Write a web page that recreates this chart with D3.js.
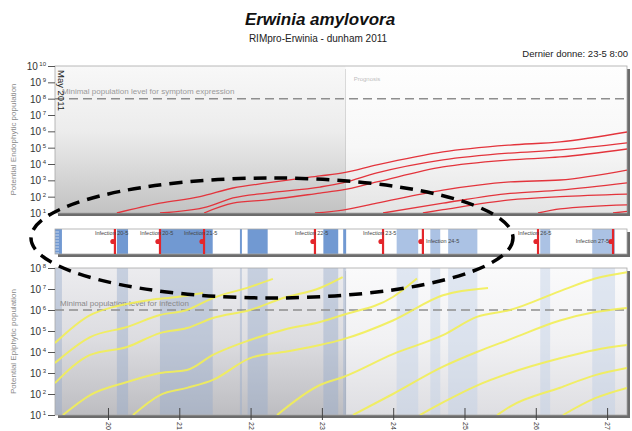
<!DOCTYPE html>
<html>
<head>
<meta charset="utf-8">
<script src="https://cdn.jsdelivr.net/npm/d3@7"></script>
<style>
  body { margin: 0; background: #fff; }
  svg { display: block; font-family: "Liberation Sans", Arial, sans-serif; }
</style>
</head>
<body>
<svg id="chart" width="632" height="431"></svg>
<script>
// --- data (times are day-month hour:min, 2011) ---
const timeStart = "19-5 06:10";
const timeEnd = "27-5 06:42";
const lastData = "23-5 08:00";

// wet periods (blue bands)
const wetStart = ["19-5 06:00", "20-5 03:00", "20-5 17:30", "21-5 20:25", "21-5 23:00", "23-5 00:30", "23-5 07:10", "24-5 01:10", "24-5 12:30", "24-5 18:30", "26-5 01:30", "26-5 19:00"];
const wetEnd   = ["19-5 08:30", "20-5 06:45", "21-5 11:15", "21-5 21:05", "22-5 05:45", "23-5 05:30", "23-5 08:10", "24-5 08:25", "24-5 15:50", "25-5 04:20", "26-5 04:50", "27-5 02:40"];

// infection events
const infectionTimes = ["20-5 02:20", "20-5 17:30", "21-5 08:20", "22-5 21:40", "23-5 20:35", "24-5 10:00", "26-5 00:45", "27-5 02:00"];
const infectionLabels = ["Infection 20-5", "Infection 20-5", "Infection 21-5", "Infection 22-5", "Infection 23-5", "Infection 24-5", "Infection 26-5", "Infection 27-5"];
const labelRow = [0, 0, 0, 0, 0, 1, 0, 1]; // 0 = upper row, 1 = lower row

// potential endophytic population (log10)
const endo1 = [["20-5 03:00", 1.0], ["20-5 17:30", 1.6], ["21-5 07:00", 2.0], ["21-5 18:05", 2.53], ["22-5 05:30", 2.84], ["22-5 23:20", 3.27], ["23-5 07:00", 3.45], ["23-5 18:30", 3.94], ["24-5 16:45", 4.74], ["25-5 15:20", 5.16], ["26-5 08:10", 5.35], ["27-5 06:42", 5.96]];
const endo2 = [["20-5 17:30", 1.0], ["21-5 09:20", 1.37], ["21-5 18:05", 1.92], ["22-5 05:30", 2.22], ["22-5 23:20", 2.59], ["23-5 07:00", 2.84], ["23-5 18:30", 3.45], ["24-5 16:45", 4.25], ["25-5 15:20", 4.67], ["26-5 08:10", 4.86], ["27-5 06:42", 5.29]];
const endo3 = [["21-5 08:20", 1.0], ["21-5 18:05", 1.6], ["22-5 05:30", 1.8], ["22-5 23:20", 2.22], ["23-5 07:00", 2.41], ["23-5 18:30", 2.9], ["24-5 16:45", 3.82], ["25-5 15:20", 4.25], ["26-5 08:10", 4.43], ["27-5 06:42", 4.92]];
const endo4 = [["22-5 21:40", 1.0], ["23-5 07:00", 1.18], ["23-5 18:30", 1.6], ["24-5 16:45", 2.4], ["25-5 15:20", 2.9], ["26-5 08:10", 3.02], ["27-5 06:42", 3.63]];
const endo5 = [["23-5 20:35", 1.0], ["24-5 16:45", 1.6], ["25-5 15:20", 2.2], ["26-5 08:10", 2.4], ["27-5 06:42", 2.84]];
const endo6 = [["24-5 10:00", 1.0], ["24-5 16:45", 1.2], ["25-5 15:20", 1.8], ["26-5 08:10", 2.0], ["27-5 06:42", 2.16]];
const endo7 = [["26-5 00:45", 1.0], ["26-5 08:10", 1.25], ["27-5 06:42", 1.5]];
const endo8 = [["27-5 02:00", 1.0], ["27-5 06:42", 1.1]];
const endoSeries = [endo1, endo2, endo3, endo4, endo5, endo6, endo7, endo8];

// potential epiphytic population (log10)
const epi1 = [["19-5 06:10", 4.43], ["19-5 18:00", 5.76], ["20-5 00:40", 6.1], ["20-5 14:10", 6.48], ["20-5 23:15", 6.62], ["21-5 08:00", 6.81]];
const epi2 = [["19-5 06:10", 3.48], ["19-5 18:00", 4.71], ["20-5 06:25", 5.19], ["20-5 17:30", 5.76], ["21-5 02:35", 6.0], ["21-5 11:20", 6.57], ["21-5 23:50", 7.1], ["22-5 07:30", 7.48]];
const epi3 = [["19-5 06:10", 2.52], ["19-5 18:00", 3.86], ["20-5 06:25", 4.24], ["20-5 17:30", 4.9], ["21-5 02:35", 5.14], ["21-5 11:20", 5.62], ["21-5 23:50", 6.0], ["22-5 10:55", 6.57], ["22-5 23:20", 7.05], ["23-5 07:00", 7.57]];
const epi4 = [["19-5 08:50", 1.0], ["19-5 18:00", 1.95], ["20-5 06:25", 2.57], ["20-5 17:30", 3.0], ["21-5 02:35", 3.14], ["21-5 11:20", 3.86], ["21-5 23:50", 4.57], ["22-5 10:55", 5.05], ["22-5 23:20", 5.43], ["23-5 07:00", 5.76], ["23-5 23:55", 6.62], ["24-5 08:00", 7.5]];
const epi5 = [["20-5 08:25", 1.0], ["20-5 17:30", 1.95], ["21-5 02:35", 2.29], ["21-5 11:20", 2.67], ["21-5 23:50", 3.71], ["22-5 10:55", 4.0], ["22-5 23:20", 4.33], ["23-5 07:00", 4.6], ["23-5 23:55", 5.5], ["24-5 16:45", 6.7], ["25-5 07:55", 7.05]];
const epi6 = [["22-5 08:55", 1.0], ["22-5 23:20", 2.43], ["23-5 07:00", 2.8], ["23-5 23:55", 3.9], ["24-5 16:45", 4.8], ["25-5 04:10", 5.67], ["25-5 15:20", 6.0], ["26-5 08:10", 6.9], ["26-5 20:00", 7.5], ["27-5 06:42", 7.8]];
const epi7 = [["23-5 10:30", 1.0], ["23-5 23:55", 2.0], ["24-5 16:45", 3.3], ["25-5 04:10", 4.0], ["25-5 15:20", 4.6], ["26-5 08:10", 5.5], ["26-5 20:00", 5.9], ["27-5 06:42", 6.1]];
const epi8 = [["24-5 09:00", 1.0], ["24-5 16:45", 1.6], ["25-5 04:10", 2.4], ["25-5 15:20", 3.0], ["26-5 08:10", 3.7], ["26-5 20:00", 4.1], ["27-5 06:42", 4.33]];
const epi9 = [["25-5 11:00", 1.0], ["25-5 15:20", 1.4], ["26-5 08:10", 2.3], ["26-5 20:00", 2.9], ["27-5 06:42", 3.24]];
const epi10 = [["26-5 09:10", 1.0], ["26-5 20:00", 1.8], ["27-5 06:42", 2.29]];
const epiSeries = [epi1, epi2, epi3, epi4, epi5, epi6, epi7, epi8, epi9, epi10];

const topTickExp = [1, 2, 3, 4, 5, 6, 7, 8, 9, 10];
const botTickExp = [1, 2, 3, 4, 5, 6, 7, 8];
const symptomLevel = 8;
const infectionLevel = 6;

// --- layout ---
const parseT = s => d3.timeParse("%Y %d-%m %H:%M")("2011 " + s);
const svg = d3.select("#chart");
const L = 55, R = 627;
const topP = { y0: 66, y1: 213 };
const strip = { y0: 229, y1: 254 };
const botP = { y0: 268, y1: 415 };

const x = d3.scaleTime().domain([parseT(timeStart), parseT(timeEnd)]).range([L, R]);
const yTop = d3.scaleLog().domain([1e1, 1e10]).range([topP.y1, topP.y0]);
const yBot = d3.scaleLog().domain([1e1, 1e8]).range([botP.y1, botP.y0]);
const xSplit = x(parseT(lastData));

const defs = svg.append("defs");
function grad(id, stops) {
    const g = defs.append("linearGradient").attr("id", id).attr("x1", 0).attr("y1", 0).attr("x2", 0).attr("y2", 1);
    stops.forEach(s => g.append("stop").attr("offset", s[0]).attr("stop-color", s[1]));
}
grad("topObs", [["0%", "#f8f8f8"], ["45%", "#ececec"], ["100%", "#c2c2c2"]]);
grad("topProg", [["0%", "#fefefe"], ["55%", "#f7f7f7"], ["100%", "#e4e4e4"]]);
grad("botObs", [["0%", "#ececef"], ["50%", "#dcdce0"], ["100%", "#bdbdc1"]]);
grad("botProg", [["0%", "#fafafb"], ["50%", "#f1f1f3"], ["100%", "#dedee2"]]);

function clip(id, p) {
    defs.append("clipPath").attr("id", id).append("rect")
        .attr("x", L).attr("y", p.y0).attr("width", R - L).attr("height", p.y1 - p.y0);
}
clip("clipTop", topP);
clip("clipBot", botP);
clip("clipStrip", strip);

// panels with drop shadow
function panel(p, obs, prog) {
    svg.append("rect").attr("x", L + 3).attr("y", p.y0 + 3).attr("width", R - L).attr("height", p.y1 - p.y0).attr("fill", "#6c6c6c");
    if (obs) {
        svg.append("rect").attr("x", L).attr("y", p.y0).attr("width", xSplit - L).attr("height", p.y1 - p.y0).attr("fill", `url(#${obs})`);
        svg.append("rect").attr("x", xSplit).attr("y", p.y0).attr("width", R - xSplit).attr("height", p.y1 - p.y0).attr("fill", `url(#${prog})`);
    } else {
        svg.append("rect").attr("x", L).attr("y", p.y0).attr("width", R - L).attr("height", p.y1 - p.y0).attr("fill", "#fff");
    }
}
panel(topP, "topObs", "topProg");
panel(strip, null, null);
panel(botP, "botObs", "botProg");

// wet bands
const wet = wetStart.map((s, i) => ({ s: parseT(s), e: parseT(wetEnd[i]) }));
const lastT = parseT(lastData);

svg.append("g").attr("clip-path", "url(#clipStrip)")
    .selectAll("rect").data(wet).join("rect")
    .attr("x", d => x(d.s)).attr("width", d => x(d.e) - x(d.s))
    .attr("y", strip.y0).attr("height", strip.y1 - strip.y0)
    .attr("fill", d => d.s < lastT ? "#7199d2" : "#abc2e4");

svg.append("g").attr("clip-path", "url(#clipBot)")
    .selectAll("rect").data(wet).join("rect")
    .attr("x", d => x(d.s)).attr("width", d => x(d.e) - x(d.s))
    .attr("y", botP.y0).attr("height", botP.y1 - botP.y0)
    .attr("fill", d => d.s < lastT ? "#94aacb" : "#bccde4")
    .attr("opacity", d => d.s < lastT ? 0.42 : 0.42);

// little marks at left of the strip
svg.append("g").selectAll("line").data(d3.range(strip.y0 + 3, strip.y1, 3)).join("line")
    .attr("x1", L).attr("x2", L + 4).attr("y1", d => d).attr("y2", d => d)
    .attr("stroke", "#dfe7f3").attr("stroke-width", 0.8);

svg.selectAll(".pborder").data([topP, strip, botP]).join("rect")
    .attr("x", L).attr("y", d => d.y0).attr("width", R - L).attr("height", d => d.y1 - d.y0)
    .attr("fill", "none").attr("stroke", "#a8a8a8").attr("stroke-width", 0.8);

// threshold lines
svg.append("line").attr("x1", L).attr("x2", R)
    .attr("y1", yTop(10 ** symptomLevel)).attr("y2", yTop(10 ** symptomLevel))
    .attr("stroke", "#8e8e8e").attr("stroke-width", 1.5).attr("stroke-dasharray", "9,5");
svg.append("text").attr("x", L + 7).attr("y", yTop(10 ** symptomLevel) - 5)
    .attr("font-size", 8).attr("fill", "#9a9a9a").text("Minimal population level for symptom expression");

svg.append("line").attr("x1", L).attr("x2", R)
    .attr("y1", yBot(10 ** infectionLevel)).attr("y2", yBot(10 ** infectionLevel))
    .attr("stroke", "#8e8e8e").attr("stroke-width", 1.5).attr("stroke-dasharray", "9,5");
svg.append("text").attr("x", L + 5).attr("y", yBot(10 ** infectionLevel) - 4)
    .attr("font-size", 8).attr("fill", "#8a8a8a").text("Minimal population level for infection");

svg.append("text").attr("x", xSplit + 8).attr("y", topP.y0 + 15)
    .attr("font-size", 6).attr("fill", "#bdbdbd").text("Prognosis");

// population lines
const lineTop = d3.line().x(d => x(parseT(d[0]))).y(d => yTop(10 ** d[1])).curve(d3.curveMonotoneX);
const lineBot = d3.line().x(d => x(parseT(d[0]))).y(d => yBot(10 ** d[1])).curve(d3.curveMonotoneX);

svg.append("g").attr("clip-path", "url(#clipTop)")
    .selectAll("path").data(endoSeries).join("path")
    .attr("d", lineTop).attr("fill", "none").attr("stroke", "#e3343c").attr("stroke-width", 1.3);

svg.append("g").attr("clip-path", "url(#clipBot)")
    .selectAll("path").data(epiSeries).join("path")
    .attr("d", lineBot).attr("fill", "none").attr("stroke", "#f2ee55").attr("stroke-width", 2)
    .attr("stroke-opacity", 0.9);

// infections in the strip
const inf = infectionTimes.map((t, i) => ({ t: parseT(t), label: infectionLabels[i], row: labelRow[i] }));
const ig = svg.append("g");
ig.selectAll("line").data(inf).join("line")
    .attr("x1", d => x(d.t)).attr("x2", d => x(d.t))
    .attr("y1", strip.y0).attr("y2", strip.y1)
    .attr("stroke", "#e3262b").attr("stroke-width", 2.2);
ig.selectAll("circle").data(inf).join("circle")
    .attr("cx", d => x(d.t) - 2).attr("cy", strip.y0 + 12.5).attr("r", 2.6)
    .attr("fill", "#e3262b");
ig.selectAll("text").data(inf).join("text")
    .attr("x", d => {
        if (d.row === 0) return x(d.t) - 20;
        return x(d.t) + 40 > R ? x(d.t) - 4 : x(d.t) + 3;
    })
    .attr("text-anchor", d => (d.row === 1 && x(d.t) + 40 > R) ? "end" : "start")
    .attr("y", d => d.row === 0 ? strip.y0 + 6 : strip.y0 + 14)
    .attr("font-size", 5.5).attr("fill", "#444")
    .text(d => d.label);

// y axes
function yAxis(scale, exps) {
    const g = svg.append("g").attr("transform", `translate(${L},0)`)
        .call(d3.axisLeft(scale).tickValues(exps.map(e => 10 ** e)).tickSize(7).tickFormat(""));
    g.select(".domain").remove();
    g.selectAll(".tick line").attr("stroke", "#555");
    const t = g.selectAll(".tick").append("text")
        .attr("x", -9).attr("dy", "0.35em").attr("text-anchor", "end")
        .attr("fill", "#333").attr("font-size", 10);
    t.append("tspan").text("10");
    t.append("tspan").attr("dx", 1.5).attr("dy", -4).attr("font-size", 6)
        .text((d, i) => exps[i]);
}
yAxis(yTop, topTickExp);
yAxis(yBot, botTickExp);

// x axis under the bottom panel (day labels, rotated)
const gx = svg.append("g").attr("transform", `translate(0,${botP.y1})`)
    .call(d3.axisBottom(x).ticks(d3.timeDay.every(1)).tickFormat(d3.timeFormat("%-d")));
gx.select(".domain").remove();
gx.selectAll(".tick line").attr("y1", -7).attr("y2", 5).attr("stroke", "#444");
gx.selectAll(".tick text")
    .attr("transform", "rotate(90)").attr("x", 7).attr("y", 0).attr("dy", "0.35em")
    .style("text-anchor", "start").attr("font-size", 7).attr("fill", "#333");

// rotated month label
svg.append("text").attr("transform", `translate(${L + 3},${topP.y0 + 4}) rotate(90)`)
    .attr("font-size", 9.5).attr("fill", "#222").text("May 2011");

// axis titles
svg.append("text").attr("transform", `translate(16,${(topP.y0 + topP.y1) / 2}) rotate(-90)`)
    .attr("text-anchor", "middle").attr("font-size", 8).attr("fill", "#8a8a8a")
    .text("Potential Endophytic population");
svg.append("text").attr("transform", `translate(16,${(botP.y0 + botP.y1) / 2}) rotate(-90)`)
    .attr("text-anchor", "middle").attr("font-size", 8).attr("fill", "#8a8a8a")
    .text("Potential Epiphytic population");

// titles
svg.append("text").attr("x", 320).attr("y", 25).attr("text-anchor", "middle")
    .attr("font-size", 17).attr("font-weight", "bold").attr("font-style", "italic").attr("fill", "#111")
    .text("Erwinia amylovora");
svg.append("text").attr("x", 318).attr("y", 42).attr("text-anchor", "middle")
    .attr("font-size", 10).attr("fill", "#222").text("RIMpro-Erwinia - dunham 2011");
svg.append("text").attr("x", 628).attr("y", 57).attr("text-anchor", "end")
    .attr("font-size", 9.5).attr("fill", "#222").text("Dernier donne: 23-5 8:00");

// hand-drawn highlight ellipse over the strip
svg.append("ellipse").attr("cx", 272).attr("cy", 238).attr("rx", 241).attr("ry", 60)
    .attr("fill", "none").attr("stroke", "#000").attr("stroke-width", 3.5)
    .attr("stroke-dasharray", "13,8");
</script>
</body>
</html>
